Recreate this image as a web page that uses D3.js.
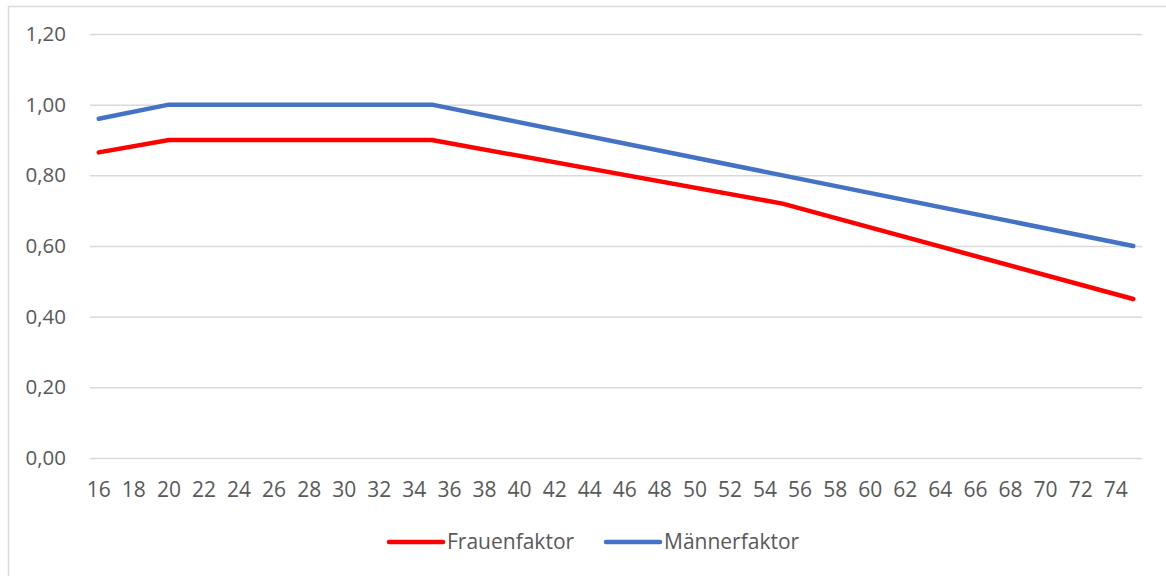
<!DOCTYPE html>
<html>
<head>
<meta charset="utf-8">
<script src="https://cdn.jsdelivr.net/npm/d3@7"></script>
<style>
    body { margin: 0; background: #fff; }
    svg text { font-family: "Open Sans", sans-serif; fill: #595959; }
</style>
</head>
<body>
<div id="chart"></div>
<script>

// ages on the category axis (16 .. 75)
const ages = d3.range(16, 76);

// breakpoints
const frauenAges = [16, 20, 35, 55, 75];
const frauenValues = [0.865, 0.90, 0.90, 0.72, 0.45];

const maennerAges = [16, 20, 35, 55, 75];
const maennerValues = [0.96, 1.00, 1.00, 0.80, 0.60];

const yTicks = [0, 0.2, 0.4, 0.6, 0.8, 1.0, 1.2];

const series = [
    { name: "Frauenfaktor", ages: frauenAges, values: frauenValues, color: "#ff0000" },
    { name: "Männerfaktor", ages: maennerAges, values: maennerValues, color: "#4472c4" }
];

const widthSvg = 1166, heightSvg = 576;
const plotLeft = 90, plotRight = 1142, plotTop = 34, plotBottom = 458;
const fontSize = 21;

const svg = d3.select("#chart").append("svg")
    .attr("width", widthSvg).attr("height", heightSvg);

// chart frame (only left/top edge visible)
svg.append("rect")
    .attr("x", 8.5).attr("y", 6.5)
    .attr("width", 1200).attr("height", 600)
    .attr("fill", "none")
    .attr("stroke", "#d9d9d9")
    .attr("stroke-width", 1.5);

// scales
const xScale = d3.scaleBand()
    .domain(ages)
    .range([plotLeft, plotRight]);

const xPos = a => xScale(a) + xScale.bandwidth() / 2;

const yScale = d3.scaleLinear()
    .domain([0, 1.2])
    .range([plotBottom, plotTop]);

const fmt = d => d3.format(".2f")(d).replace(".", ",");

// y axis with gridlines
const yAxis = svg.append("g")
    .attr("transform", `translate(${plotLeft}, 0)`)
    .call(d3.axisLeft(yScale)
        .tickValues(yTicks)
        .tickSize(-(plotRight - plotLeft))
        .tickPadding(24)
        .tickFormat(fmt));

yAxis.select(".domain").remove();
yAxis.selectAll("line").attr("stroke", "#d9d9d9").attr("stroke-width", 1.5);
yAxis.selectAll("text")
    .attr("font-size", 20.5)
    .style("font-family", "'Open Sans', sans-serif")
    .attr("fill", "#595959");

// x axis, labels every second age
const xAxis = svg.append("g")
    .attr("transform", `translate(0, ${plotBottom})`)
    .call(d3.axisBottom(xScale)
        .tickValues(ages.filter(a => a % 2 === 0))
        .tickSize(0)
        .tickPadding(24));

xAxis.select(".domain").remove();
xAxis.selectAll("text")
    .attr("font-size", fontSize)
    .style("font-family", "'Open Sans', sans-serif")
    .attr("fill", "#595959");

// lines
const line = d3.line()
    .x(d => xPos(d.age))
    .y(d => yScale(d.value));

series.forEach(s => {
    const pts = s.ages.map((a, i) => ({ age: a, value: s.values[i] }));
    svg.append("path")
        .datum(pts)
        .attr("d", line)
        .attr("fill", "none")
        .attr("stroke", s.color)
        .attr("stroke-width", 4.5)
        .attr("stroke-linecap", "round")
        .attr("stroke-linejoin", "round");
});

// legend
const legendX = [389, 606];
const legend = svg.append("g").attr("transform", "translate(0, 542)");

series.forEach((s, i) => {
    const g = legend.append("g").attr("transform", `translate(${legendX[i]}, 0)`);
    g.append("line")
        .attr("x1", 0).attr("x2", 54)
        .attr("y1", 0).attr("y2", 0)
        .attr("stroke", s.color)
        .attr("stroke-width", 4.5)
        .attr("stroke-linecap", "round");
    g.append("text")
        .attr("x", 58)
        .attr("y", 0)
        .attr("dy", "0.35em")
        .attr("font-size", fontSize)
        .text(s.name);
});

</script>
</body>
</html>
